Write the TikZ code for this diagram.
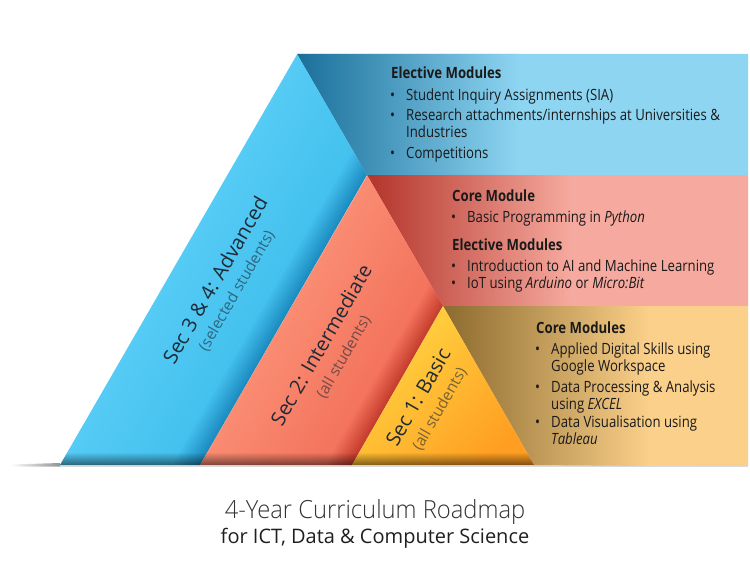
\documentclass[tikz,border=0pt]{standalone}
\usepackage{fontspec}
\setmainfont{Open Sans}
\newfontfamily\bodyf{Open Sans}[FakeStretch=0.85]
\newfontfamily\labf{Open Sans}
\IfFontExistsTF{Open Sans Light}{\newfontfamily\lightf{Open Sans Light}[FakeStretch=0.95]}{\newfontfamily\lightf{Open Sans}[FakeStretch=0.95]}
\usetikzlibrary{fadings}
\definecolor{txt}{HTML}{1A1A1A}
\definecolor{labtxt}{HTML}{1E2A36}
\definecolor{blueL}{HTML}{55CBF5}
\definecolor{blueM}{HTML}{44C1EE}
\definecolor{blueD}{HTML}{1784BA}
\definecolor{bluefold}{HTML}{1A6F9A}
\definecolor{bluefoldM}{HTML}{3DABDB}
\definecolor{bluebanner}{HTML}{8ED5F2}
\definecolor{redL}{HTML}{F98C72}
\definecolor{redM}{HTML}{F4735C}
\definecolor{redD}{HTML}{BF3627}
\definecolor{redfold}{HTML}{B3342A}
\definecolor{redfoldM}{HTML}{DE6456}
\definecolor{redbanner}{HTML}{F6A99E}
\definecolor{yelL}{HTML}{FFD743}
\definecolor{yelD}{HTML}{FF9E22}
\definecolor{yelfold}{HTML}{8C6B2E}
\definecolor{yelfoldM}{HTML}{D8A85C}
\definecolor{yelbanner}{HTML}{FBD08A}
\newcommand\bulmark{\makebox[16pt][l]{\textbullet}}
\begin{document}
\begin{tikzpicture}[x=1pt,y=-1pt,
  head/.style={anchor=base west, inner sep=0pt, text=txt, font=\bodyf\bfseries\fontsize{15.5}{18}\selectfont},
  bul/.style={anchor=base west, inner sep=0pt, text=txt, font=\bodyf\fontsize{15.5}{18}\selectfont},
  seclab/.style={rotate=60, inner sep=0pt, text=labtxt, font=\labf\fontsize{20}{24}\selectfont},
  sublab/.style={rotate=60, inner sep=0pt, text=labtxt, text opacity=0.6, font=\labf\fontsize{15.5}{18}\selectfont}]
\useasboundingbox (0,0) rectangle (750,586);
% key points
\coordinate (A) at (297,54);
\coordinate (B) at (367,175);
\coordinate (C) at (443,306);
\coordinate (BL) at (60,465);
\coordinate (RL) at (200,465);
\coordinate (YL) at (352,465);
\coordinate (YR) at (534,465);
\coordinate (E0) at (748,54);
\coordinate (E1) at (748,175);
\coordinate (E2) at (748,306);
\coordinate (E3) at (748,466);

% ground line
\fill[gray!30] (60,465) rectangle (748,467);
\shade[left color=white, right color=gray!85] (10,464.5) -- (60,463) -- (60,466.5) -- (10,466.5) -- cycle;

% banners
\fill[bluebanner] (A) -- (E0) -- (E1) -- (B) -- cycle;
\shade[left color=bluefold, middle color=bluefoldM, right color=bluebanner] (A) -- (520,54) -- (520,175) -- (B) -- cycle;
\fill[redbanner] (B) -- (E1) -- (E2) -- (C) -- cycle;
\shade[left color=redfold, middle color=redfoldM, right color=redbanner] (B) -- (570,175) -- (570,306) -- (C) -- cycle;
\fill[yelbanner] (C) -- (E2) -- (E3) -- (YR) -- cycle;
\shade[left color=yelfold, middle color=yelfoldM, right color=yelbanner] (C) -- (650,306) -- (650,466) -- (YR) -- cycle;

% blue strip
\begin{scope}
  \clip (BL) -- (A) -- (B) -- (RL) -- cycle;
  \begin{scope}[transform canvas={shift={(BL)}, rotate=60}]
    \shade[top color=blueL, bottom color=blueM] (-20,0) rectangle (520,96);
    \shade[top color=blueM, bottom color=blueD] (-20,95.5) rectangle (520,123);
  \end{scope}
\end{scope}
% red strip
\begin{scope}
  \clip (RL) -- (B) -- (C) -- (YL) -- cycle;
  \begin{scope}[transform canvas={shift={(RL)}, rotate=60}]
    \shade[top color=redL, bottom color=redM] (-20,0) rectangle (420,108);
    \shade[top color=redM, bottom color=redD] (-20,107.5) rectangle (420,133);
  \end{scope}
\end{scope}
% yellow triangle
\shade[left color=yelL, right color=yelD, shading angle=45] (YL) -- (C) -- (YR) -- cycle;

% base shadow on the strips
\begin{scope}
  \clip (BL) -- (A) -- (YR) -- cycle;
  \fill[black, opacity=0.5, path fading=north] (50,452) rectangle (540,465);
\end{scope}

% rotated labels
\node[seclab] (l3) at (215,280) {Sec 3 \& 4: Advanced};
\node[sublab] (s3) at (237,291) {(selected students)};
\node[seclab] (l2) at (321,345) {Sec 2: Intermediate};
\node[sublab] (s2) at (344,357) {(all students)};
\node[seclab] (l1) at (418,397) {Sec 1: Basic};
\node[sublab] (s1) at (440,409) {(all students)};

% blue banner text
\node[head] (bh) at (391,79) {Elective Modules};
\node[bul] (b1) at (390,100) {\bulmark Student Inquiry Assignments (SIA)};
\node[bul] (b2) at (390,121) {\bulmark Research attachments/internships at Universities \&};
\node[bul] (b2c) at (406,137.5) {Industries};
\node[bul] (b3) at (390,158) {\bulmark Competitions};

% red banner text
\node[head] (rh1) at (452,201) {Core Module};
\node[bul] (r1) at (451,222) {\bulmark Basic Programming in \textit{Python}};
\node[head] (rh2) at (452,250) {Elective Modules};
\node[bul] (r2) at (451,271) {\bulmark Introduction to AI and Machine Learning};
\node[bul] (r3) at (451,288.5) {\bulmark IoT using \textit{Arduino} or \textit{Micro:Bit}};

% yellow banner text
\node[head] (yh) at (536,333.5) {Core Modules};
\node[bul] (y1) at (535,354) {\bulmark Applied Digital Skills using};
\node[bul] (y1c) at (551,371.5) {Google Workspace};
\node[bul] (y2) at (535,392) {\bulmark Data Processing \& Analysis};
\node[bul] (y2c) at (551,409.5) {using \textit{EXCEL}};
\node[bul] (y3) at (535,427) {\bulmark Data Visualisation using};
\node[bul] (y3c) at (551,444) {\textit{Tableau}};

% title
\node[anchor=base, inner sep=0pt, text=black!80, font=\lightf\fontsize{25}{30}\selectfont] (t1) at (375,518) {4-Year Curriculum Roadmap};
\node[anchor=base, inner sep=0pt, text=black!88, font=\labf\fontsize{20}{24}\selectfont] (t2) at (375,543) {for ICT, Data \& Computer Science};
\end{tikzpicture}
\end{document}
